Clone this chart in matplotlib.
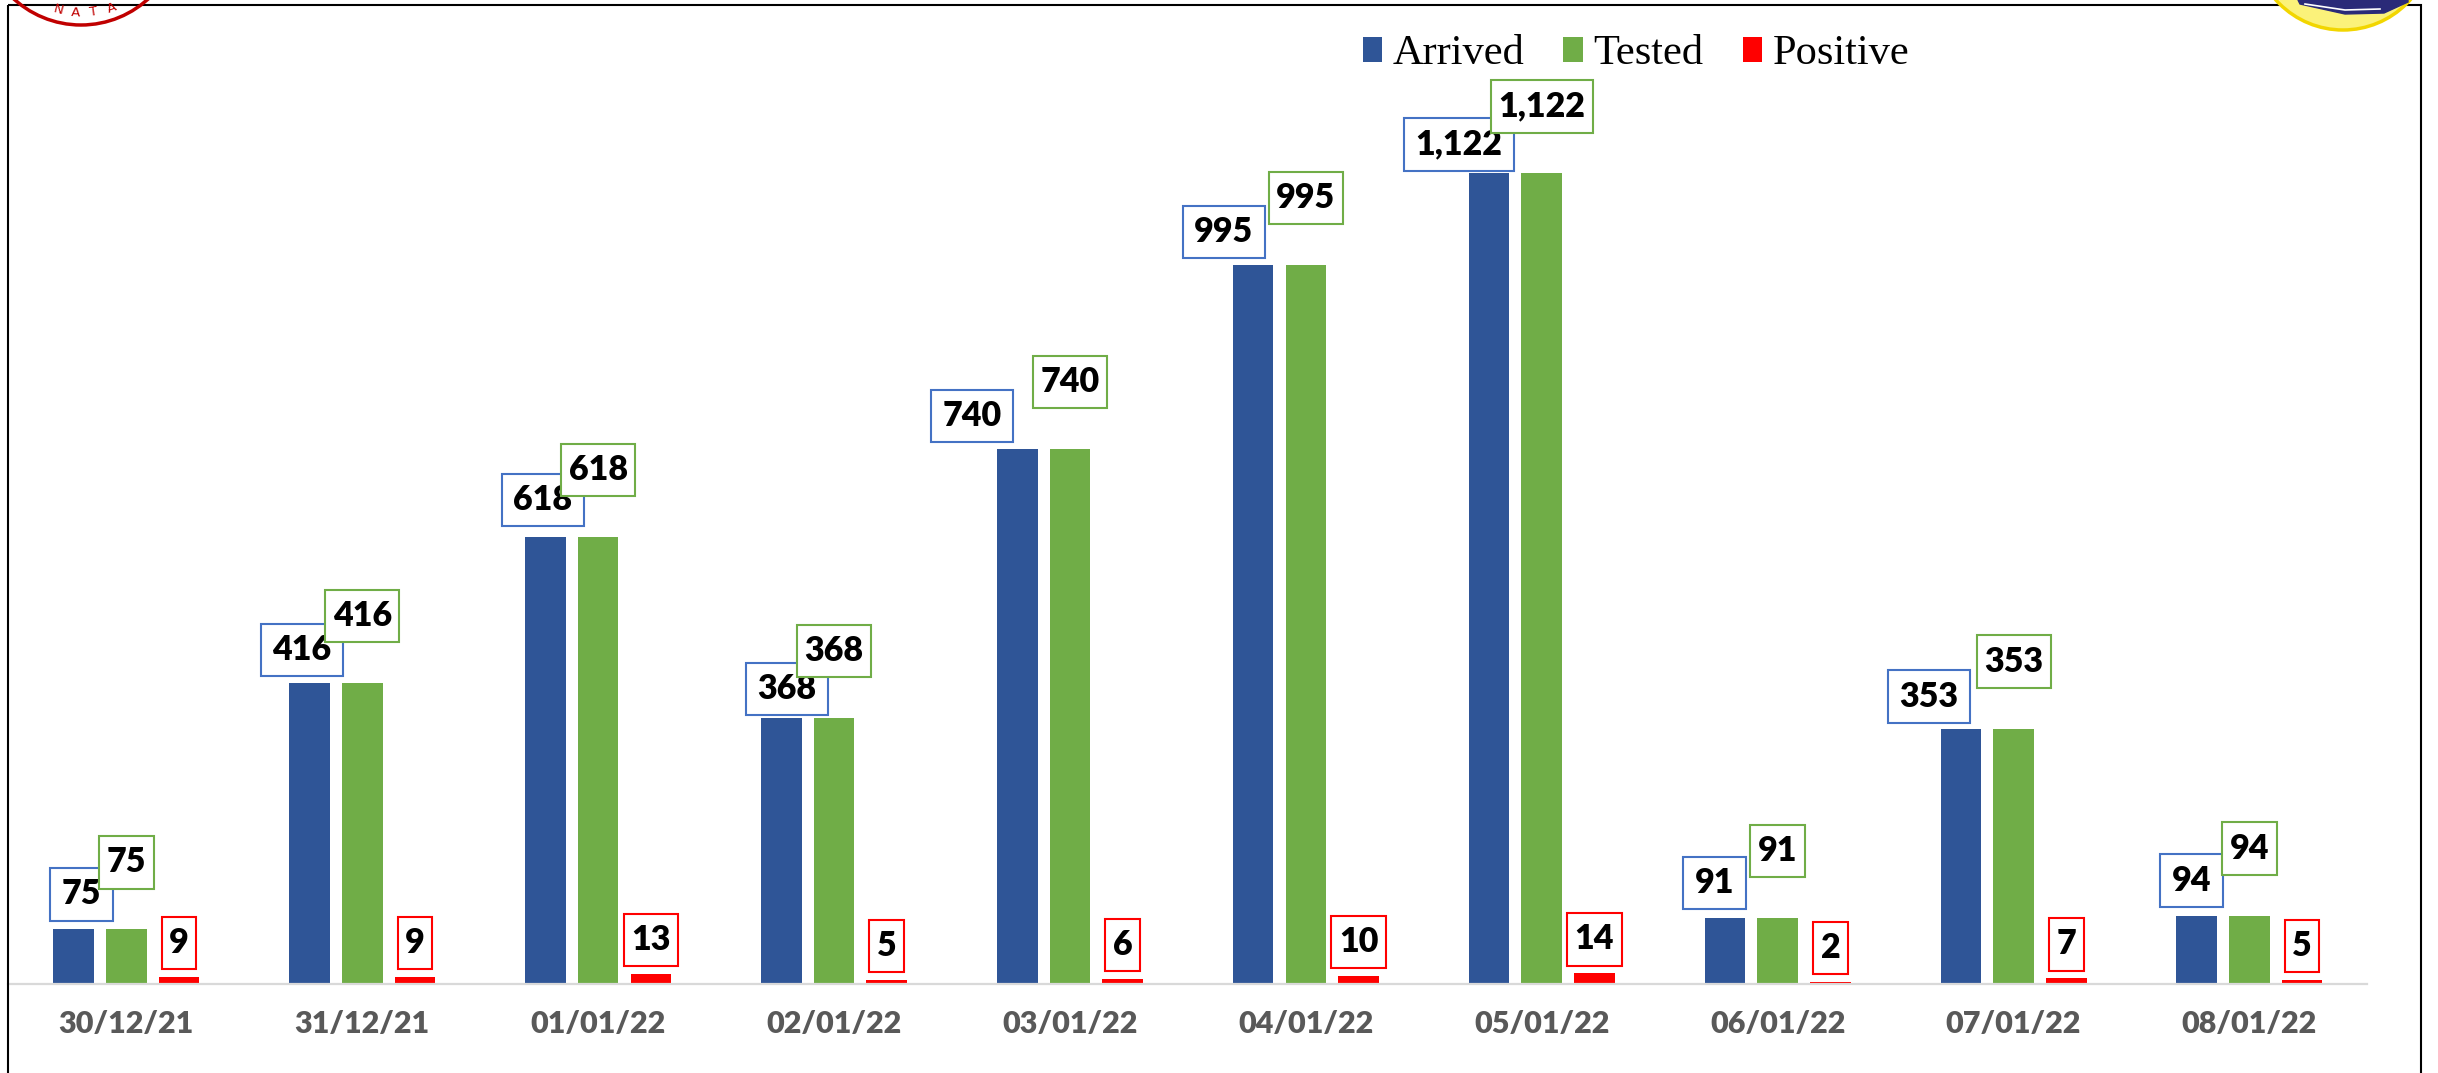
import numpy as np
import matplotlib
matplotlib.use("Agg")
import matplotlib.pyplot as plt
from matplotlib.path import Path
from matplotlib.patches import Circle, Rectangle, Polygon

# data
dates = ["30/12/21", "31/12/21", "01/01/22", "02/01/22", "03/01/22",
         "04/01/22", "05/01/22", "06/01/22", "07/01/22", "08/01/22"]
arrived = [75, 416, 618, 368, 740, 995, 1122, 91, 353, 94]
tested = [75, 416, 618, 368, 740, 995, 1122, 91, 353, 94]
positive = [9, 9, 13, 5, 6, 10, 14, 2, 7, 5]

# label nudges (pixels), the labels were moved by hand in the original
blue_dx = [8, -7.5, -2.5, 5.5, -45, -29.5, -30, -10.5, -32, -5.5]
blue_dy = [35, 33, 37, 29, 33, 33, 29, 35, 32, 35]
green_dy = 67
red_dy = 34

c_blue = "#2F5597"
c_green = "#70AD47"
c_red = "#FF0000"

W, H = 2438, 1073
fig = plt.figure(figsize=(W / 100, H / 100), dpi=100)

ax = fig.add_axes([8.4 / W, (H - 983.5) / H, 2359 / W, 1300 * 0.7221 / H])
x = np.arange(len(dates))
step = 0.2234
bw = 0.1725
ax.bar(x - step, arrived, bw, color=c_blue, label="Arrived", zorder=2)
ax.bar(x, tested, bw, color=c_green, label="Tested", zorder=2)
ax.bar(x + step, positive, bw, color=c_red, label="Positive", zorder=2)

ax.set_xlim(-0.5, len(dates) - 0.5)
ax.set_ylim(0, 1300)
for s in ["top", "left", "right"]:
    ax.spines[s].set_visible(False)
ax.spines["bottom"].set_color("#D9D9D9")
ax.spines["bottom"].set_linewidth(1.6)
ax.set_yticks([])
ax.set_xticks(x, dates)
ax.tick_params(axis="x", length=0, pad=19)
for t in ax.get_xticklabels():
    t.set_fontfamily("Lato")
    t.set_fontweight("heavy")
    t.set_fontsize(22)
    t.set_color("#595959")


def box(padx, pady):
    def f(x0, y0, w, h, mutation_scale):
        px = padx * mutation_scale
        py = pady * mutation_scale
        v = [(x0 - px, y0 - py), (x0 + w + px, y0 - py), (x0 + w + px, y0 + h + py),
             (x0 - px, y0 + h + py), (x0 - px, y0 - py)]
        return Path(v, closed=True)
    return f


px2pt = 0.72
lbl = dict(ha="center", va="center", fontsize=24.5, fontweight="heavy",
           family="Lato", color="black", textcoords="offset points", zorder=4)

for i in range(len(dates)):
    ax.annotate(f"{arrived[i]:,}", xy=(x[i] - step, arrived[i]),
                xytext=(blue_dx[i] * px2pt, blue_dy[i] * px2pt),
                bbox=dict(boxstyle=box(0.34, 0.3), fc="white", ec="#4472C4", lw=1.5), **lbl)
    ax.annotate(f"{tested[i]:,}", xy=(x[i], tested[i]),
                xytext=(0, green_dy * px2pt),
                bbox=dict(boxstyle=box(0.22, 0.3), fc="white", ec=c_green, lw=1.5), **lbl)
    ax.annotate(f"{positive[i]:,}", xy=(x[i] + step, positive[i]),
                xytext=(0, red_dy * px2pt),
                bbox=dict(boxstyle=box(0.22, 0.3), fc="white", ec=c_red, lw=1.5), **lbl)

leg = fig.legend(loc="center", bbox_to_anchor=(1636 / W, 1 - 54 / H), ncol=3, frameon=False,
                 prop={"family": "Liberation Serif", "size": 30.5},
                 handlelength=0.45, handleheight=0.54, handletextpad=0.26,
                 columnspacing=0.92, borderaxespad=0)

# frame and the two logos peeking in at the top
ov = fig.add_axes([0, 0, 1, 1], zorder=5)
ov.set_xlim(0, W)
ov.set_ylim(H, 0)
ov.axis("off")
ov.patch.set_alpha(0)
ov.add_patch(Rectangle((8, 5), 2413, 1200, fill=False, ec="black", lw=1.5))

cx, cy = 81, -74.6
ov.add_patch(Circle((cx, cy), 99.6, fill=False, ec="#C00000", lw=2.5))
for letter, lx in zip("NATA", [58, 76, 94, 112]):
    dx = lx - cx
    r = 88
    dy = np.sqrt(r * r - dx * dx)
    ang = np.degrees(np.arctan2(dx, dy))
    ov.text(lx, cy + dy, letter, color="#C00000", fontsize=9.5, ha="center", va="center",
            rotation=ang, family="DejaVu Sans")

ov.add_patch(Circle((2343, -60), 90, fc="#FBF27A", ec="#F2D600", lw=2.5))
ov.add_patch(Polygon([(2298, 0), (2300, 4), (2345, 14), (2384, 13), (2408, 2), (2408, 0)],
                     closed=True, fc="#2A2A78", ec="#2A2A78"))
ov.plot([2305, 2345, 2380], [4, 10, 9], color="white", lw=1.2)

fig.savefig("out.png", dpi=100)
